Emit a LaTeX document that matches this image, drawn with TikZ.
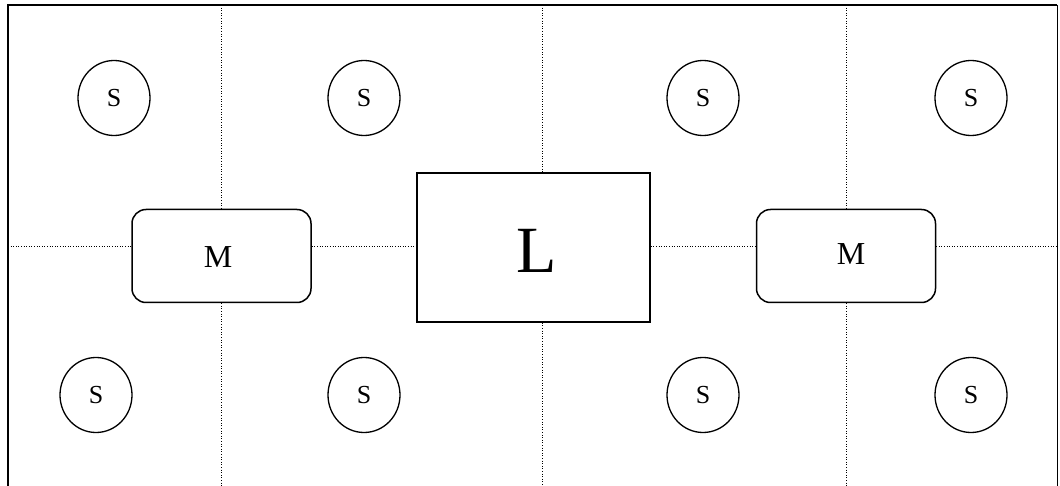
\documentclass[tikz,border=0pt]{standalone}
\usepackage{fontspec}
\setmainfont{Liberation Serif}
\usetikzlibrary{shapes.geometric}
\begin{document}
\begin{tikzpicture}[x=1pt,y=-1pt,
  small/.style={draw,ellipse,line width=1.3pt,minimum width=72pt,minimum height=75pt,inner sep=0pt,font=\fontsize{26}{26}\selectfont},
  medium/.style={draw,rounded corners=14pt,line width=1.5pt,minimum width=179pt,minimum height=93pt,inner sep=0pt},
  large/.style={draw,line width=1.7pt,minimum width=233pt,minimum height=149pt,inner sep=0pt},
  grid/.style={line width=1pt,dash pattern=on 1pt off 1.6pt},
  frame/.style={line width=2pt}]
\useasboundingbox (0,0) rectangle (1060,486);
% outer frame, open at the bottom
\coordinate (fbl) at (8,486);
\coordinate (ftl) at (8,5);
\coordinate (ftr) at (1057,5);
\coordinate (fbr) at (1057,486);
\draw[frame] (fbl) -- (ftl) -- (ftr);
\draw[line width=1pt] (ftr) -- (fbr);
% boxes
\node[large] (L) at (533.5,247.5) {};
\node[font=\fontsize{66}{66}\selectfont] (Lt) at (537,251) {L};
\node[medium] (M1) at (221.5,256) {};
\node[font=\fontsize{32}{32}\selectfont] (M1t) at (218,257) {M};
\node[medium] (M2) at (846,256) {};
\node[font=\fontsize{32}{32}\selectfont] (M2t) at (851,254) {M};
% small stations
\node[small] (s1) at (114,98) {S};
\node[small] (s2) at (364,98) {S};
\node[small] (s3) at (703,98) {S};
\node[small] (s4) at (971,98) {S};
\node[small] (s5) at (96,395) {S};
\node[small] (s6) at (364,395) {S};
\node[small] (s7) at (703,395) {S};
\node[small] (s8) at (971,395) {S};
% dotted division lines
\coordinate (h0) at (8,247);
\coordinate (h1) at (1057,247);
\coordinate (v1t) at (221,5);
\coordinate (v1b) at (221,486);
\coordinate (v2t) at (542,5);
\coordinate (v2b) at (542,486);
\coordinate (v3t) at (846,5);
\coordinate (v3b) at (846,486);
\draw[grid] (h0) -- (M1.west |- h0);
\draw[grid] (M1.east |- h0) -- (L.west |- h0);
\draw[grid] (L.east |- h0) -- (M2.west |- h0);
\draw[grid] (M2.east |- h0) -- (h1);
\draw[grid] (v1t) -- (v1t |- M1.north);
\draw[grid] (v1b |- M1.south) -- (v1b);
\draw[grid] (v2t) -- (v2t |- L.north);
\draw[grid] (v2b |- L.south) -- (v2b);
\draw[grid] (v3t) -- (v3t |- M2.north);
\draw[grid] (v3b |- M2.south) -- (v3b);
\end{tikzpicture}
\end{document}
